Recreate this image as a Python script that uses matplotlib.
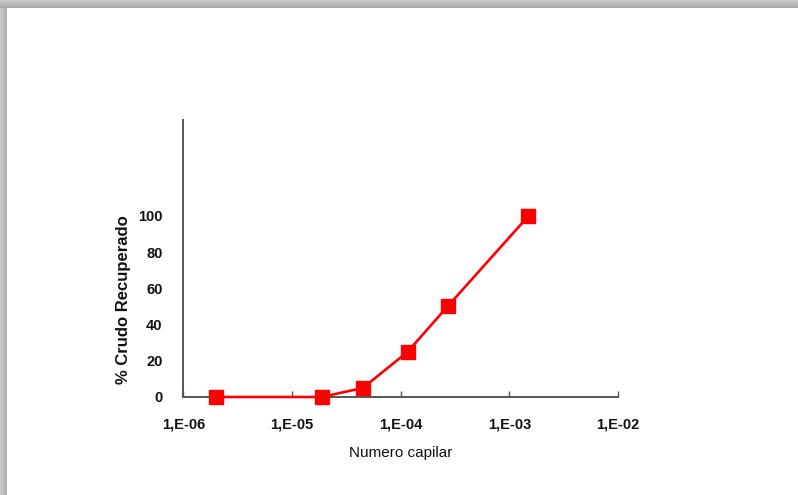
import numpy as np
import matplotlib
matplotlib.use('Agg')
import matplotlib.pyplot as plt
from matplotlib.ticker import FixedLocator, NullLocator

# Capillary number vs recovered crude oil
numero_capilar = [2.0e-6, 1.87e-5, 4.5e-5, 1.16e-4, 2.7e-4, 1.5e-3]
crudo_recuperado = [0, 0, 5, 25, 50, 100]

x_ticks = [1e-6, 1e-5, 1e-4, 1e-3, 1e-2]
x_tick_labels = ['1,E-06', '1,E-05', '1,E-04', '1,E-03', '1,E-02']
y_ticks = [0, 20, 40, 60, 80, 100]

plt.rcParams['font.family'] = ['Liberation Sans', 'DejaVu Sans']

fig = plt.figure(figsize=(7.98, 4.95), dpi=100)
fig.patch.set_facecolor('white')

# Shadow frame along the top and left edges
W, H = 798, 495
top = 8 / H
left = 7 / W
grad_v = np.linspace(0.80, 0.66, 20).reshape(-1, 1)
ax_top = fig.add_axes([0, 1 - top, 1, top])
ax_top.imshow(np.repeat(grad_v, 50, axis=1), cmap='gray', vmin=0, vmax=1,
              aspect='auto', origin='upper')
ax_top.axis('off')
grad_h = np.linspace(0.80, 0.68, 20).reshape(1, -1)
ax_left = fig.add_axes([0, 0, left, 1 - top])
ax_left.imshow(np.repeat(grad_h, 50, axis=0), cmap='gray', vmin=0, vmax=1,
               aspect='auto')
ax_left.axis('off')

ax = fig.add_axes([183.3 / W, 98 / H, (618 - 183.3) / W, (397 - 120) / H])
ax.plot(numero_capilar, crudo_recuperado, color='#ff0000', lw=1.9,
        marker='s', markersize=10, markerfacecolor='#ff0000',
        markeredgecolor='#ff0000', zorder=3, clip_on=False)

ax.set_xscale('log')
ax.set_xlim(1e-6, 1e-2)
ax.set_ylim(0, 153)
ax.xaxis.set_major_locator(FixedLocator(x_ticks))
ax.xaxis.set_minor_locator(NullLocator())
ax.set_xticklabels(x_tick_labels)
ax.set_yticks(y_ticks)

for side in ['top', 'right']:
    ax.spines[side].set_visible(False)
for side in ['left', 'bottom']:
    ax.spines[side].set_color('#555555')
    ax.spines[side].set_linewidth(1.4)

ax.tick_params(axis='x', direction='in', length=4, width=1, color='#555555',
               pad=15, labelsize=10.5, labelcolor='#111111')
ax.tick_params(axis='y', direction='out', length=0, width=1, color='#555555',
               pad=15, labelsize=10.5, labelcolor='#111111')
for lab in ax.get_xticklabels() + ax.get_yticklabels():
    lab.set_fontweight('bold')

ax.set_xlabel('Numero capilar', fontsize=11, color='#111111', labelpad=10)
ax.set_ylabel('% Crudo Recuperado', fontsize=12, fontweight='bold',
              color='#111111')
ax.yaxis.set_label_coords(-0.12, 0.35)

fig.savefig('out.png', dpi=100, facecolor='white')
